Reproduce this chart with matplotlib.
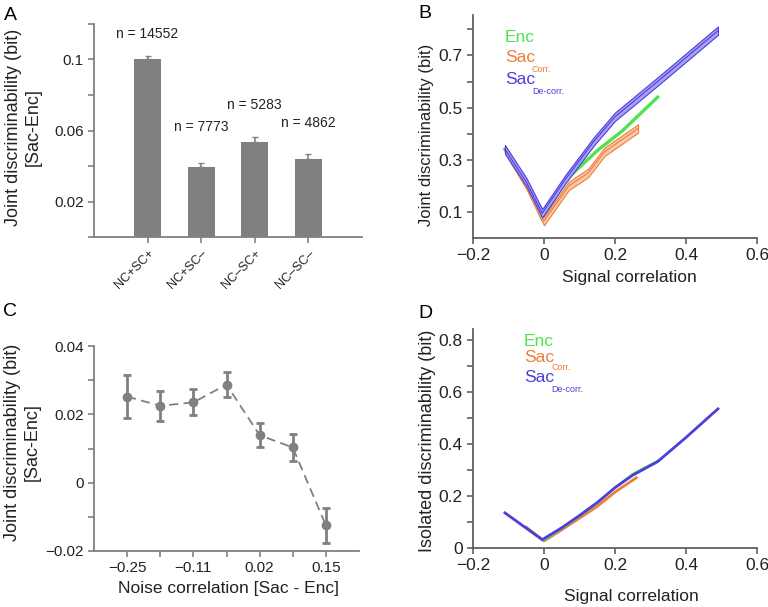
import numpy as np
import matplotlib
matplotlib.use("Agg")
import matplotlib.pyplot as plt

plt.rcParams['font.family'] = ['Liberation Sans', 'DejaVu Sans']

# ---- panel A data ----
bar_labels = ["NC+SC+", "NC+SC\u2013", "NC\u2013SC+", "NC\u2013SC\u2013"]
bar_vals = [0.1005, 0.0395, 0.0537, 0.0439]
bar_err = [0.0017, 0.0021, 0.0025, 0.0026]
bar_n = ["n = 14552", "n = 7773", "n = 5283", "n = 4862"]
bar_n_y = [0.1145, 0.062, 0.0745, 0.0645]

# ---- panel B data ----
b_dec_x = [-0.11, -0.05, -0.005, 0.06, 0.14, 0.2, 0.32, 0.49]
b_dec_y = [0.34, 0.215, 0.095, 0.225, 0.37, 0.465, 0.6, 0.795]
b_enc_x = [-0.11, -0.05, -0.005, 0.06, 0.15, 0.22, 0.32]
b_enc_y = [0.34, 0.215, 0.07, 0.22, 0.335, 0.41, 0.54]
b_cor_x = [-0.11, -0.05, 0.0, 0.07, 0.125, 0.17, 0.265]
b_cor_y = [0.34, 0.205, 0.065, 0.2, 0.25, 0.33, 0.42]
b_dec_err = 0.016
b_cor_err = 0.016

# ---- panel C data ----
c_ticks = ["\u22120.25", "", "\u22120.11", "", "0.02", "", "0.15"]
c_vals = [0.0252, 0.0225, 0.0235, 0.0287, 0.0139, 0.0103, -0.0125]
c_err = [0.0063, 0.0044, 0.0038, 0.0037, 0.0035, 0.0040, 0.0052]

# ---- panel D data ----
d_dec_x = [-0.11, -0.005, 0.05, 0.1, 0.15, 0.2, 0.25, 0.32, 0.4, 0.49]
d_dec_y = [0.135, 0.032, 0.078, 0.125, 0.175, 0.232, 0.28, 0.332, 0.425, 0.535]
d_enc_x = [0.0, 0.05, 0.1, 0.15, 0.2, 0.25, 0.32]
d_enc_y = [0.03, 0.075, 0.122, 0.172, 0.232, 0.285, 0.335]
d_cor_x = [-0.05, 0.0, 0.05, 0.1, 0.15, 0.2, 0.26]
d_cor_y = [0.08, 0.027, 0.07, 0.115, 0.16, 0.215, 0.27]

green = "#4fe34f"
orange = "#f07c3c"
blue = "#4b3fdc"

W, H = 768, 607
fig = plt.figure(figsize=(W / 100, H / 100), dpi=100)


def px_axes(l, t, r, b):
    return fig.add_axes([l / W, 1 - b / H, (r - l) / W, (b - t) / H])


def ftext(x, y, s, **kw):
    fig.text(x / W, 1 - y / H, s, **kw)


def style(ax, col, size):
    for s in ["top", "right"]:
        ax.spines[s].set_visible(False)
    for s in ["left", "bottom"]:
        ax.spines[s].set_color(col)
        ax.spines[s].set_linewidth(1.3)
    ax.tick_params(colors=col, labelcolor="#222222", labelsize=size,
                   width=1.2, length=4)


# ---------------- A ----------------
axA = px_axes(94, 24, 362, 237)
xa = np.arange(1, 5)
axA.bar(xa, bar_vals, width=0.5, color="#808080", zorder=2)
axA.errorbar(xa, bar_vals, yerr=[np.zeros(4), bar_err], fmt="none",
             ecolor="#808080", elinewidth=1.2, capsize=2, capthick=1)
for x, s, y in zip(xa, bar_n, bar_n_y):
    axA.text(x, y, s, ha="center", va="center", fontsize=10, color="#222222")
axA.set_xlim(0, 5)
axA.set_ylim(0, 0.12)
axA.set_yticks(np.arange(0, 0.121, 0.02))
axA.set_yticklabels(["", "0.02", "", "0.06", "", "0.1", ""])
axA.set_xticks(xa)
axA.set_xticklabels(bar_labels, rotation=45, ha="right", rotation_mode="anchor")
style(axA, "#808080", 11)
axA.tick_params(axis="x", labelsize=9)
ftext(23, 127, "Joint discriminability (bit)\n[Sac-Enc]", rotation=90,
      ha="center", va="center", fontsize=13, color="#222222")
ftext(4, 16, "A", fontsize=14, va="center")

# ---------------- B ----------------
axB = px_axes(473, 15, 757, 238)
axB.plot(b_enc_x, b_enc_y, color=green, lw=2.4, zorder=2)
cy = np.array(b_cor_y)
axB.fill_between(b_cor_x, cy - b_cor_err, cy + b_cor_err, facecolor="#f9c9a8",
                 edgecolor=orange, lw=0.8, zorder=3)
axB.plot(b_cor_x, cy, color=orange, lw=0.8, zorder=3)
dy = np.array(b_dec_y)
axB.fill_between(b_dec_x, dy - b_dec_err, dy + b_dec_err, facecolor="#a9a2f4",
                 edgecolor=blue, lw=0.8, zorder=4)
axB.plot(b_dec_x, dy, color=blue, lw=0.8, zorder=4)
axB.set_xlim(-0.2, 0.6)
axB.set_ylim(0, 0.855)
axB.set_xticks([-0.2, 0, 0.2, 0.4, 0.6])
axB.set_xticklabels(["\u22120.2", "0", "0.2", "0.4", "0.6"])
axB.set_yticks(np.arange(0.1, 0.81, 0.1))
axB.set_yticklabels(["0.1", "", "0.3", "", "0.5", "", "0.7", ""])
style(axB, "#606060", 12.5)
ftext(427, 135, "Joint discriminability (bit)", rotation=90, ha="center",
      va="center", fontsize=12, color="#222222")
ftext(629, 278, "Signal correlation", ha="center", va="center", fontsize=12.5,
      color="#222222")
ftext(418, 14, "B", fontsize=14, va="center")
ftext(505, 38, "Enc", color=green, fontsize=12.5, va="center")
ftext(505, 58, "Sac", color=orange, fontsize=12.5, va="center")
ftext(532, 70, "Corr.", color=orange, fontsize=6.5, va="center")
ftext(505, 80, "Sac", color=blue, fontsize=12.5, va="center")
ftext(532, 92, "De-corr.", color=blue, fontsize=6.5, va="center")

# ---------------- C ----------------
axC = px_axes(94, 346, 359, 551)
xc = np.arange(1, 8)
axC.plot(xc, c_vals, color="#808080", lw=1.3, dashes=(5, 3), zorder=2)
axC.errorbar(xc, c_vals, yerr=c_err, fmt="o", color="#808080", ms=6,
             elinewidth=2, capsize=3, capthick=2, zorder=3)
axC.set_xlim(0, 8)
axC.set_ylim(-0.02, 0.04)
axC.set_xticks(xc)
axC.set_xticklabels(c_ticks)
axC.set_yticks(np.arange(-0.02, 0.041, 0.01))
axC.set_yticklabels(["\u22120.02", "", "0", "", "0.02", "", "0.04"])
style(axC, "#808080", 11)
ftext(22, 442, "Joint discriminability (bit)\n[Sac-Enc]", rotation=90,
      ha="center", va="center", fontsize=13, color="#222222")
ftext(229, 588, "Noise correlation [Sac - Enc]", ha="center", va="center",
      fontsize=12.5, color="#222222")
ftext(3, 312, "C", fontsize=14, va="center")

# ---------------- D ----------------
axD = px_axes(473, 329, 757, 548)
axD.plot(d_cor_x, d_cor_y, color=orange, lw=2, zorder=2)
axD.plot(d_enc_x, d_enc_y, color=green, lw=1.5, zorder=2.5)
axD.plot(d_dec_x, d_dec_y, color=blue, lw=2, zorder=3)
axD.set_xlim(-0.2, 0.6)
axD.set_ylim(0, 0.842)
axD.set_xticks([-0.2, 0, 0.2, 0.4, 0.6])
axD.set_xticklabels(["\u22120.2", "0", "0.2", "0.4", "0.6"])
axD.set_yticks(np.arange(0, 0.81, 0.1))
axD.set_yticklabels(["0", "", "0.2", "", "0.4", "", "0.6", "", "0.8"])
style(axD, "#606060", 12.5)
ftext(428, 441, "Isolated discriminability (bit)", rotation=90, ha="center",
      va="center", fontsize=13, color="#222222")
ftext(631, 596, "Signal correlation", ha="center", va="center", fontsize=12.5,
      color="#222222")
ftext(418, 313, "D", fontsize=14, va="center")
ftext(524, 342, "Enc", color=green, fontsize=12.5, va="center")
ftext(524, 358, "Sac", color=orange, fontsize=12.5, va="center")
ftext(551, 367, "Corr.", color=orange, fontsize=6.5, va="center")
ftext(524, 378, "Sac", color=blue, fontsize=12.5, va="center")
ftext(551, 389, "De-corr.", color=blue, fontsize=6.5, va="center")

fig.savefig("out.png", dpi=100)
